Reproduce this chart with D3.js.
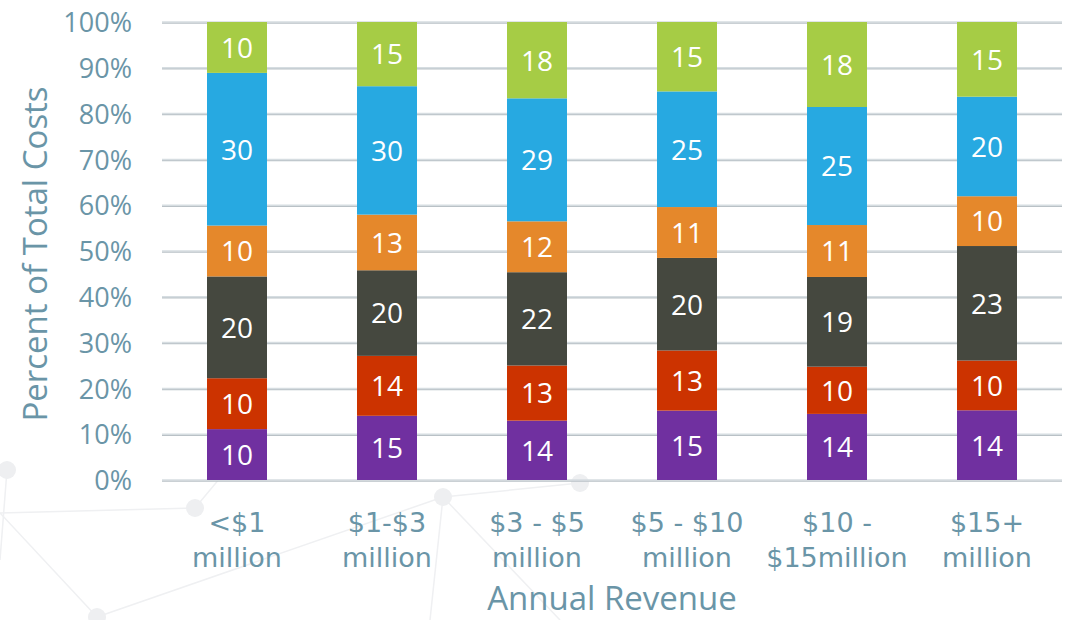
<!DOCTYPE html>
<html><head><meta charset="utf-8">
<script src="https://cdn.jsdelivr.net/npm/d3@7"></script>
<style>body{margin:0;background:#fff;} svg{display:block;font-family:"Open Sans",sans-serif;}</style>
</head><body>
<svg id="c" width="1071" height="620"></svg>
<script>
const categories = [["<$1","million"],["$1-$3","million"],["$3 - $5","million"],["$5 - $10","million"],["$10 -","$15million"],["$15+","million"]];
const seriesNames = ["Purple","Red","Dark","Orange","Blue","Green"];
const purple = [10,15,14,15,14,14];
const red    = [10,14,13,13,10,10];
const dark   = [20,20,22,20,19,23];
const orange = [10,13,12,11,11,10];
const blue   = [30,30,29,25,25,20];
const green  = [10,15,18,15,18,15];
const colors = ["#7030a0","#cc3300","#45483f","#e5882b","#27a9e1","#a6cc45"];
const yTicks = [0,0.1,0.2,0.3,0.4,0.5,0.6,0.7,0.8,0.9,1];

(function(){
const seriesVals = [purple,red,dark,orange,blue,green];
const rows = categories.map((c,i)=>{const r={idx:i}; seriesNames.forEach((s,j)=>r[s]=seriesVals[j][i]); return r;});
const txt = "#6a95a7";
const svg = d3.select("#c");
const pL=162,pR=1062,pT=22,pB=480;
const x = d3.scaleBand().domain(d3.range(categories.length)).range([pL,pR]).paddingInner(0.6).paddingOuter(0.3);
const y = d3.scaleLinear().domain([0,1]).range([pB,pT]);

// faint decorative background network
const bg = svg.append("g");
const nodes=[[7,470],[195,508],[443,497],[580,483],[97,617],[0,513],[430,620],[560,620],[260,430],[0,560]];
[[4,2],[5,4],[2,6],[2,7],[1,8],[0,9],[2,3],[1,5]].forEach(([a,b])=>bg.append("line").attr("x1",nodes[a][0]).attr("y1",nodes[a][1]).attr("x2",nodes[b][0]).attr("y2",nodes[b][1]).attr("stroke","#eff0f2").attr("stroke-width",1.5));
[0,1,2,3,4].forEach(k=>bg.append("circle").attr("cx",nodes[k][0]).attr("cy",nodes[k][1]).attr("r",9).attr("fill","#eeeff1"));

// gridlines
const grid = svg.append("g");
yTicks.forEach(t=>{
  grid.append("line").attr("x1",pL).attr("x2",pR).attr("y1",y(t)+1).attr("y2",y(t)+1).attr("stroke","#b9c1c6").attr("stroke-width",1.5);
  grid.append("line").attr("x1",pL).attr("x2",pR).attr("y1",y(t)).attr("y2",y(t)).attr("stroke","#d6dde1").attr("stroke-width",1.5);
});

// y axis labels
const yAxis = d3.axisLeft(y).tickValues(yTicks).tickFormat(d3.format(".0%")).tickSize(0).tickPadding(0);
const ya = svg.append("g").attr("transform",`translate(132,0)`).call(yAxis);
ya.select(".domain").remove();
ya.selectAll("text").attr("fill",txt).attr("font-size",27).attr("dy","0.36em").style("font-family","'Open Sans',sans-serif");

// stacks
const stack = d3.stack().keys(seriesNames).offset(d3.stackOffsetExpand);
const st = stack(rows);
const layers = svg.append("g").selectAll("g").data(st).join("g").attr("fill",(d,i)=>colors[i]);
layers.selectAll("rect").data(d=>d).join("rect")
  .attr("x",(d,i)=>x(i)).attr("width",x.bandwidth())
  .attr("y",d=>y(d[1])).attr("height",d=>y(d[0])-y(d[1]));
const lbl = svg.append("g");
st.forEach((layer,j)=>{
  layer.forEach((d,i)=>{
    lbl.append("text").attr("x",x(i)+x.bandwidth()/2).attr("y",(y(d[0])+y(d[1]))/2)
      .attr("dy","0.37em").attr("text-anchor","middle").attr("fill","#fff").attr("font-size",28)
      .text(seriesVals[j][i]);
  });
});

// x labels
const xl = svg.append("g");
categories.forEach((c,i)=>{
  c.forEach((line,k)=>xl.append("text").attr("x",x(i)+x.bandwidth()/2).attr("y",532+k*35)
    .attr("text-anchor","middle").attr("fill",txt).attr("font-size",27)
    .style("font-family","'DejaVu Sans',sans-serif").text(line));
});

// titles
svg.append("text").attr("x",(pL+pR)/2).attr("y",610).attr("text-anchor","middle").attr("fill",txt).attr("font-size",33).text("Annual Revenue");
svg.append("text").attr("transform","translate(47,254) rotate(-90)").attr("text-anchor","middle").attr("fill",txt).attr("font-size",33).text("Percent of Total Costs");
})();
</script>
</body></html>
